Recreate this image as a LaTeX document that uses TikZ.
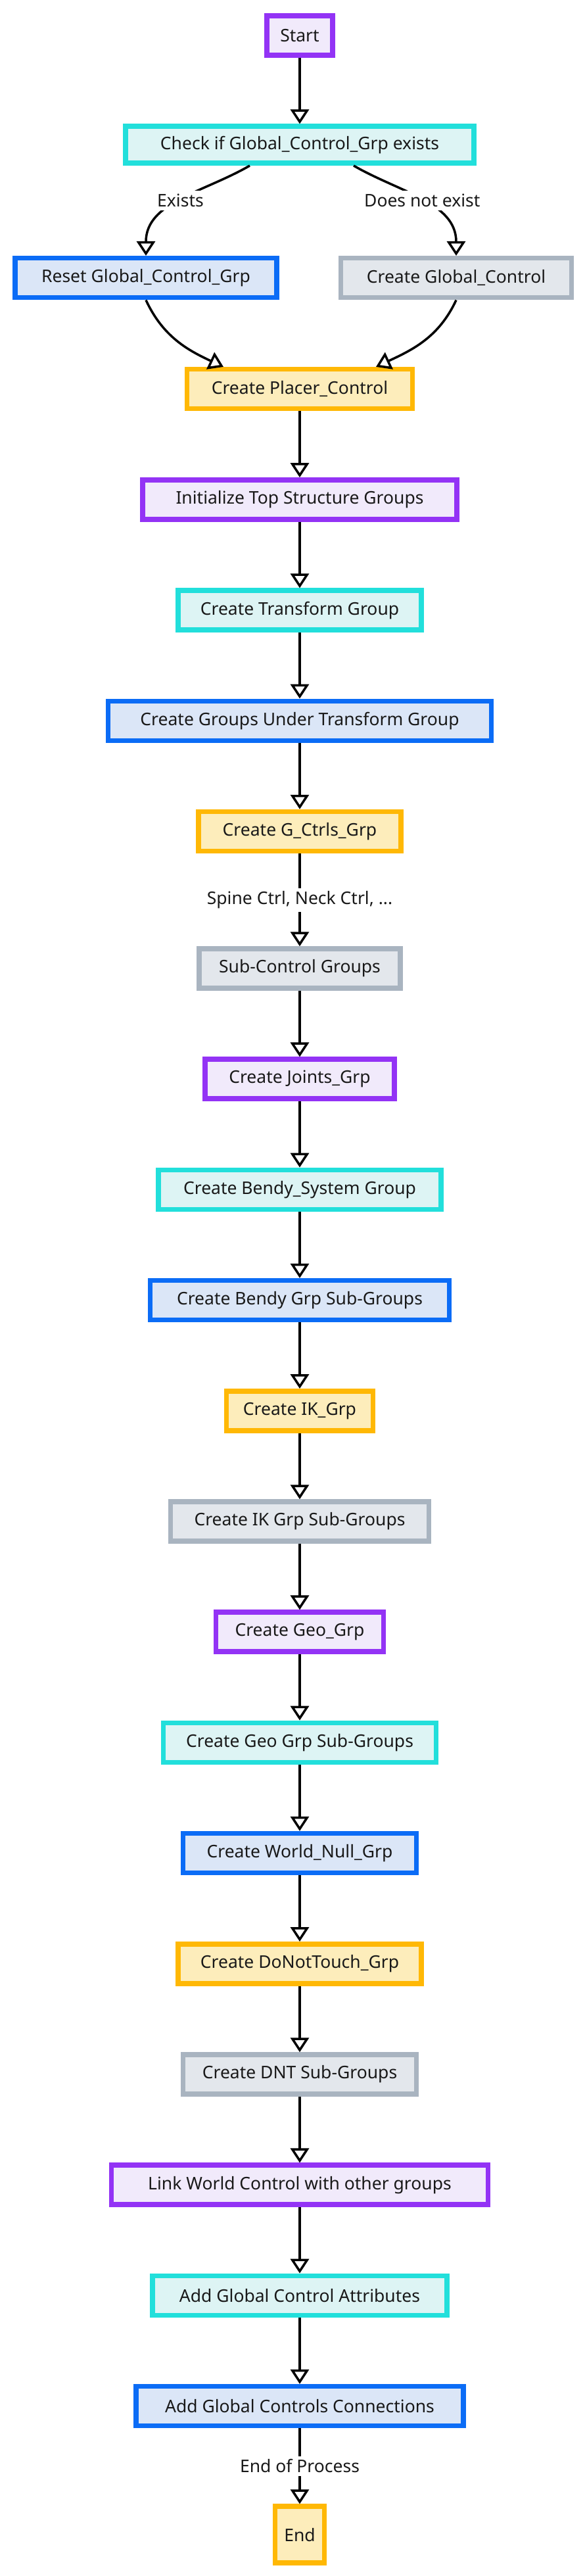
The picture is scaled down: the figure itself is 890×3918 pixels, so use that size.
\documentclass[tikz,border=0pt]{standalone}
\usepackage{fontspec}
\setmainfont{Noto Sans}
\usepackage{xcolor}
\usepackage{tikz}
\usetikzlibrary{arrows.meta, positioning}
\definecolor{vividpurple}{HTML}{9333F5}
\definecolor{palepurple}{HTML}{F1EAFB}
\definecolor{vividcyan}{HTML}{22DFDB}
\definecolor{palecyan}{HTML}{DDF4F4}
\definecolor{vividblue}{HTML}{0B6CF6}
\definecolor{paleblue}{HTML}{DBE6F7}
\definecolor{ambergold}{HTML}{FFB805}
\definecolor{palegold}{HTML}{FDEDBB}
\definecolor{slategrey}{HTML}{A9B4C0}
\definecolor{palegrey}{HTML}{E3E7EC}

\begin{document}
\begin{tikzpicture}[
      node distance=100.7pt,
      every node/.style={font=\fontsize{26.5}{32}\selectfont, text=black!90},
      box/.style={line width=7.5pt, minimum height=60pt, inner xsep=8pt,
                  inner ysep=4pt, align=center},
      pbox/.style={box, draw=vividpurple, fill=palepurple},
      cbox/.style={box, draw=vividcyan, fill=palecyan},
      bbox/.style={box, draw=vividblue, fill=paleblue},
      ybox/.style={box, draw=ambergold, fill=palegold},
      gbox/.style={box, draw=slategrey, fill=palegrey},
      arrow/.style={-{Triangle[open, length=22pt, width=28pt]}, line width=3.5pt, black},
      lbl/.style={fill=white, inner sep=5pt},
    ]

    \useasboundingbox (0,0) rectangle (890pt,-3918pt);

    % Inicio y comprobacion
    \node[pbox, minimum width=100pt] (start) at (456pt,-54pt) {Start};
    \node[cbox, minimum width=530pt, minimum height=56pt, below=of start]
      (check) {Check if Global\_Control\_Grp exists};

    % Ramas
    \node[bbox, minimum width=398pt, below=137pt of check, xshift=-234pt]
      (reset) {Reset Global\_Control\_Grp};
    \node[gbox, minimum width=351pt, below=137pt of check, xshift=238pt]
      (gctrl) {Create Global\_Control};

    % Cadena principal
    \node[ybox, minimum width=343pt, below=306pt of check] (placer) {Create Placer\_Control};
    \node[pbox, minimum width=478pt, below=of placer] (topgrp) {Initialize Top Structure Groups};
    \node[cbox, minimum width=370pt, below=of topgrp] (xform) {Create Transform Group};
    \node[bbox, minimum width=583pt, below=of xform] (xformsub) {Create Groups Under Transform Group};
    \node[ybox, minimum width=308pt, below=of xformsub] (gctrls) {Create G\_Ctrls\_Grp};
    \node[gbox, minimum width=306pt, below=141pt of gctrls] (subctrl) {Sub-Control Groups};
    \node[pbox, minimum width=288pt, below=of subctrl] (joints) {Create Joints\_Grp};
    \node[cbox, minimum width=430pt, below=of joints] (bendy) {Create Bendy\_System Group};
    \node[bbox, minimum width=455pt, below=of bendy] (bendysub) {Create Bendy Grp Sub-Groups};
    \node[ybox, minimum width=223pt, below=of bendysub] (ik) {Create IK\_Grp};
    \node[gbox, minimum width=393pt, below=of ik] (iksub) {Create IK Grp Sub-Groups};
    \node[pbox, minimum width=255pt, below=of iksub] (geo) {Create Geo\_Grp};
    \node[cbox, minimum width=415pt, below=of geo] (geosub) {Create Geo Grp Sub-Groups};
    \node[bbox, minimum width=355pt, below=of geosub] (worldnull) {Create World\_Null\_Grp};
    \node[ybox, minimum width=370pt, below=of worldnull] (dnt) {Create DoNotTouch\_Grp};
    \node[gbox, minimum width=355pt, below=of dnt] (dntsub) {Create DNT Sub-Groups};
    \node[pbox, minimum width=573pt, below=of dntsub] (link) {Link World Control with other groups};
    \node[cbox, minimum width=448pt, below=of link] (attrs) {Add Global Control Attributes};
    \node[bbox, minimum width=498pt, below=of attrs] (conns) {Add Global Controls Connections};
    \node[ybox, minimum width=75pt, minimum height=86pt, below=115pt of conns] (finish) {End};

    % Flechas
    \draw[arrow] (start) -- (check);
    \draw[arrow] ([xshift=-76pt]check.south) to[out=-150, in=90]
      node[lbl] {Exists} (reset.north);
    \draw[arrow] ([xshift=82pt]check.south) to[out=-30, in=90]
      node[lbl] {Does not exist} (gctrl.north);
    \draw[arrow] (reset.south) to[out=-65, in=155] ([xshift=-116pt]placer.north);
    \draw[arrow] (gctrl.south) to[out=-115, in=25] ([xshift=116pt]placer.north);
    \draw[arrow] (placer) -- (topgrp);
    \draw[arrow] (topgrp) -- (xform);
    \draw[arrow] (xform) -- (xformsub);
    \draw[arrow] (xformsub) -- (gctrls);
    \draw[arrow] (gctrls) -- node[lbl] {Spine Ctrl, Neck Ctrl, ...} (subctrl);
    \draw[arrow] (subctrl) -- (joints);
    \draw[arrow] (joints) -- (bendy);
    \draw[arrow] (bendy) -- (bendysub);
    \draw[arrow] (bendysub) -- (ik);
    \draw[arrow] (ik) -- (iksub);
    \draw[arrow] (iksub) -- (geo);
    \draw[arrow] (geo) -- (geosub);
    \draw[arrow] (geosub) -- (worldnull);
    \draw[arrow] (worldnull) -- (dnt);
    \draw[arrow] (dnt) -- (dntsub);
    \draw[arrow] (dntsub) -- (link);
    \draw[arrow] (link) -- (attrs);
    \draw[arrow] (attrs) -- (conns);
    \draw[arrow] (conns) -- node[lbl] {End of Process} (finish);

  \end{tikzpicture}
\end{document}
